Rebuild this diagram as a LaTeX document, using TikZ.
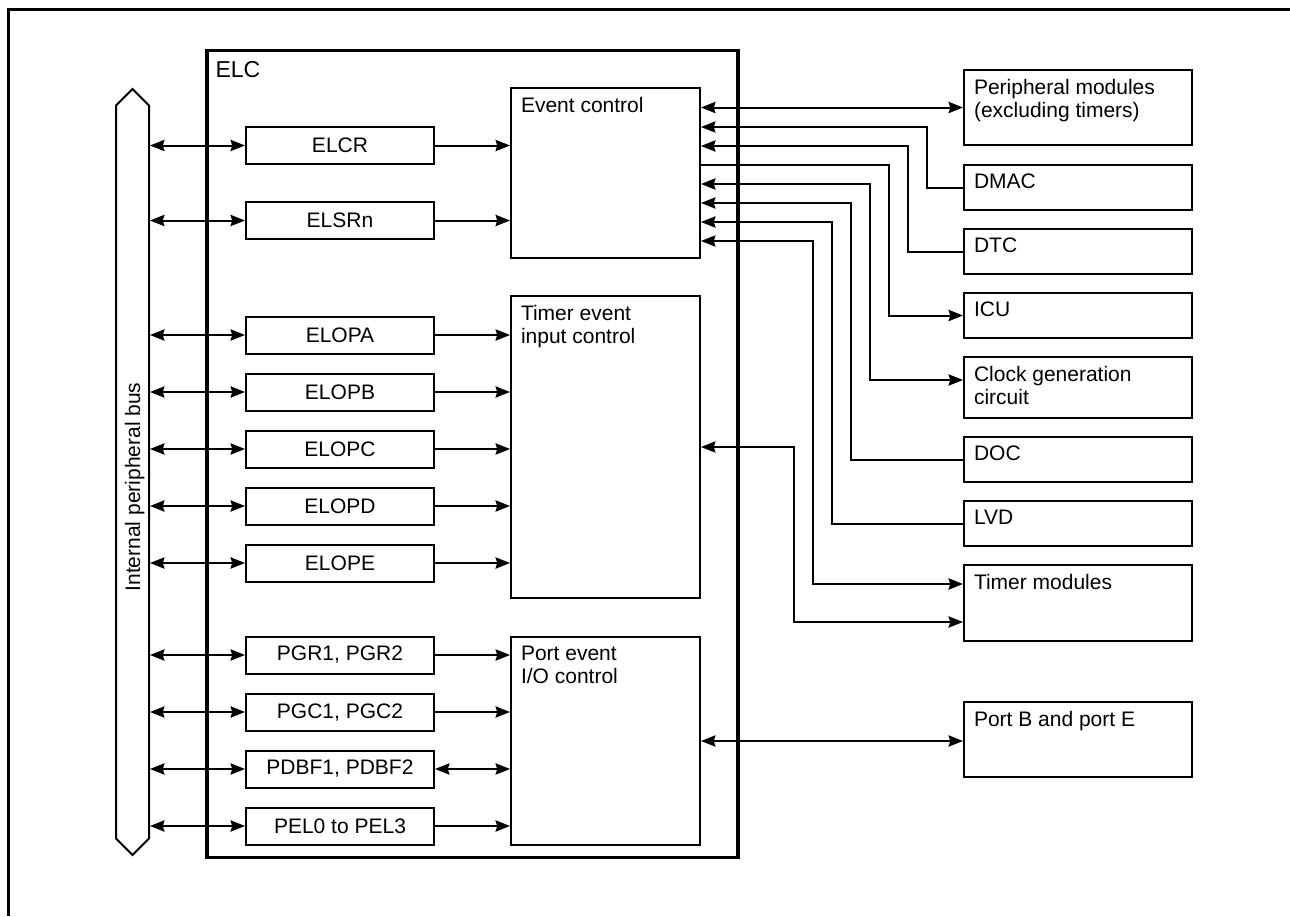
\documentclass[tikz,border=0pt]{standalone}
\usepackage{fontspec}
\setmainfont{Liberation Sans}
\usetikzlibrary{arrows.meta, shapes.arrows}

\begin{document}
\begin{tikzpicture}[
    x=0.5pt, y=-0.5pt,
    >={Stealth[length=7.2pt, width=5.6pt, inset=0.8pt]},
    font=\fontsize{10.5}{11.7}\selectfont,
    line width=1pt,
    bus/.style={double arrow, draw, rotate=90, double arrow head extend=0pt, double arrow tip angle=90, minimum height=383pt, text height=9pt, text depth=1.5pt, inner xsep=1pt, inner ysep=2.5pt},
    elcbox/.style={rectangle, draw, line width=1.7pt, minimum width=265.5pt, minimum height=403.5pt},
    elctitle/.style={anchor=north west, inner xsep=4.6pt, inner ysep=6pt, font=\fontsize{11.5}{13}\selectfont},
    reg/.style={rectangle, draw, minimum width=94pt, minimum height=18.5pt, inner sep=0pt},
    block/.style={rectangle, draw, minimum width=94.5pt},
    ext/.style={rectangle, draw, minimum width=114pt},
    boxtitle/.style={label={[anchor=north west, inner xsep=5pt, inner ysep=4.5pt, align=left]north west:#1}},
    arrow/.style={->},
    darrow/.style={<->},
]
\useasboundingbox (0,0) rectangle (1290,916);

% === FRAME ===
\draw[line width=1.5pt] (8.5,916) |- (1290,9);

% === ELC ===
\node[elcbox, label={[elctitle]north west:ELC}] (elc) at (472.5,453.75) {};

% bus
\node[bus] (bus) at (132.5,472) {Internal peripheral bus\hspace*{15pt}};

% registers
\node[reg] (elcr) at (340,145.5) {ELCR};
\node[reg] (elsr) at (340,220.5) {ELSRn};
\node[reg] (elopa) at (340,335) {ELOPA};
\node[reg] (elopb) at (340,392) {ELOPB};
\node[reg] (elopc) at (340,449) {ELOPC};
\node[reg] (elopd) at (340,506) {ELOPD};
\node[reg] (elope) at (340,563) {ELOPE};
\node[reg] (pgr) at (340,655) {PGR1, PGR2};
\node[reg] (pgc) at (340,712) {PGC1, PGC2};
\node[reg] (pdbf) at (340,769) {PDBF1, PDBF2};
\node[reg] (pel) at (340,826) {PEL0 to PEL3};

% control blocks
\node[block, minimum height=85pt, boxtitle=Event control] (evt) at (605.5,173) {};
\node[block, minimum height=151pt, boxtitle={Timer event\\input control}] (tmr) at (605.5,447) {};
\node[block, minimum height=104pt, boxtitle={Port event\\I/O control}] (prt) at (605.5,741) {};

% === OUTSIDE MODULES ===
\node[ext, minimum height=37.5pt, boxtitle={Peripheral modules\\(excluding timers)}] (per) at (1078,107.5) {};
\node[ext, minimum height=22.5pt, boxtitle=DMAC] (dmac) at (1078,187.5) {};
\node[ext, minimum height=22.5pt, boxtitle=DTC] (dtc) at (1078,251.5) {};
\node[ext, minimum height=22.5pt, boxtitle=ICU] (icu) at (1078,315.5) {};
\node[ext, minimum height=30.5pt, boxtitle={Clock generation\\circuit}] (clk) at (1078,387.5) {};
\node[ext, minimum height=22.5pt, boxtitle=DOC] (doc) at (1078,459.5) {};
\node[ext, minimum height=22.5pt, boxtitle=LVD] (lvd) at (1078,523.5) {};
\node[ext, minimum height=38pt, boxtitle=Timer modules] (tim) at (1078,603) {};
\node[ext, minimum height=37.5pt, boxtitle=Port B and port E] (port) at (1078,739.5) {};

% === CONNECTIONS ===
% bus to registers
\draw[darrow] (bus.south |- elcr.west) -- (elcr.west);
\draw[darrow] (bus.south |- elsr.west) -- (elsr.west);
\draw[darrow] (bus.south |- elopa.west) -- (elopa.west);
\draw[darrow] (bus.south |- elopb.west) -- (elopb.west);
\draw[darrow] (bus.south |- elopc.west) -- (elopc.west);
\draw[darrow] (bus.south |- elopd.west) -- (elopd.west);
\draw[darrow] (bus.south |- elope.west) -- (elope.west);
\draw[darrow] (bus.south |- pgr.west) -- (pgr.west);
\draw[darrow] (bus.south |- pgc.west) -- (pgc.west);
\draw[darrow] (bus.south |- pdbf.west) -- (pdbf.west);
\draw[darrow] (bus.south |- pel.west) -- (pel.west);

% registers to control blocks
\draw[arrow] (elcr.east) -- (elcr.east -| evt.west);
\draw[arrow] (elsr.east) -- (elsr.east -| evt.west);
\draw[arrow] (elopa.east) -- (elopa.east -| tmr.west);
\draw[arrow] (elopb.east) -- (elopb.east -| tmr.west);
\draw[arrow] (elopc.east) -- (elopc.east -| tmr.west);
\draw[arrow] (elopd.east) -- (elopd.east -| tmr.west);
\draw[arrow] (elope.east) -- (elope.east -| tmr.west);
\draw[arrow] (pgr.east) -- (pgr.east -| prt.west);
\draw[arrow] (pgc.east) -- (pgc.east -| prt.west);
\draw[darrow] (pdbf.east) -- (pdbf.east -| prt.west);
\draw[arrow] (pel.east) -- (pel.east -| prt.west);

% event control to outside modules
\draw[darrow] (evt.east |- per.west) -- (per.west);
\draw[arrow] (dmac.west) -| (927,127) -- (evt.east |- 0,127);
\draw[arrow] (dtc.west) -| (908,146) -- (evt.east |- 0,146);
\draw[arrow] (evt.east |- 0,165) -| (889,315.5) -- (icu.west);
\draw[darrow] (evt.east |- 0,184) -| (870,380) -- (clk.west |- 0,380);
\draw[arrow] (doc.west) -| (851,203) -- (evt.east |- 0,203);
\draw[arrow] (lvd.west) -| (832,222) -- (evt.east |- 0,222);
\draw[darrow] (evt.east |- 0,241) -| (813,584) -- (tim.west |- 0,584);

% timer and port blocks
\draw[darrow] (tmr.east) -| (794,622) -- (tim.west |- 0,622);
\draw[darrow] (prt.east) -- (prt.east -| port.west);

\end{tikzpicture}
\end{document}
